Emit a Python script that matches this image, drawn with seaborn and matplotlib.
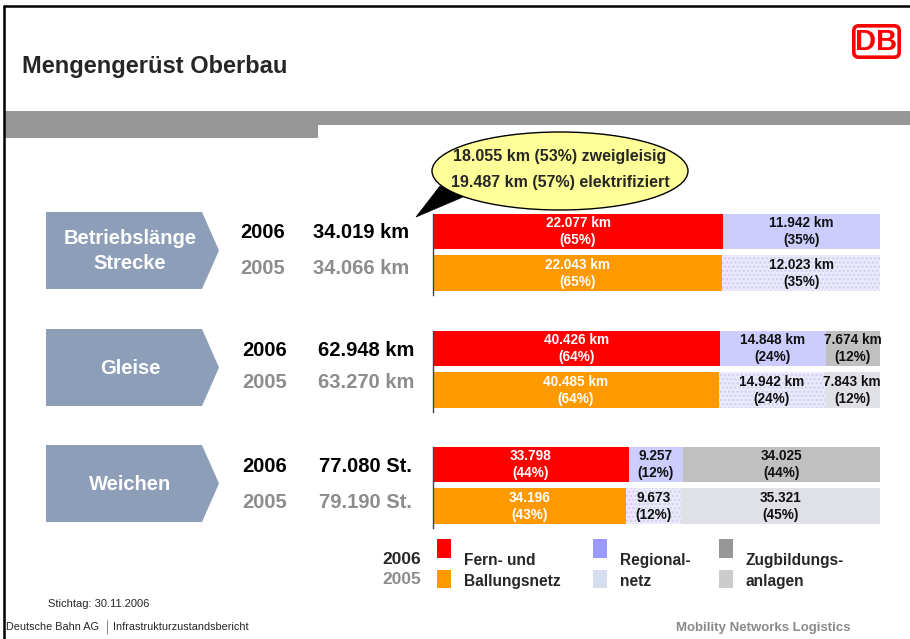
import matplotlib
matplotlib.use("Agg")
import matplotlib.pyplot as plt
import seaborn as sns
from matplotlib.patches import Polygon, Rectangle, Ellipse, FancyBboxPatch

# data
years = ["2006", "2005"]
groups = ["Betriebslänge\nStrecke", "Gleise", "Weichen"]
units = ["km", "km", "St."]

strecke_2006 = [22077, 11942]
strecke_2005 = [22043, 12023]
gleise_2006 = [40426, 14848, 7674]
gleise_2005 = [40485, 14942, 7843]
weichen_2006 = [33798, 9257, 34025]
weichen_2005 = [34196, 9673, 35321]

legend_labels = ["Fern- und\nBallungsnetz", "Regional-\nnetz", "Zugbildungs-\nanlagen"]
callout_lines = ["18.055 km (53%) zweigleisig", "19.487 km (57%) elektrifiziert"]

# styles
colors_2006 = ["#ff0000", "#ccccff", "#c0c0c0"]
colors_2005 = ["#ff9900", "#ebebfc", "#dfe1e6"]
legend_2006 = ["#ff0000", "#9999ff", "#969696"]
legend_2005 = ["#ff9900", "#d6dff0", "#cccccc"]
grey_text = "#8c8c8c"
chevron_color = "#8d9fb8"

W, H = 910, 639

sns.set_style("white")
plt.rcParams["font.family"] = ["Liberation Sans", "DejaVu Sans"]
plt.rcParams["hatch.linewidth"] = 1.2


def fmt(v):
    return f"{v:,}".replace(",", ".")


def rect(x0, y0, x1, y1):
    # pixel box -> figure fraction
    return [x0 / W, 1 - y1 / H, (x1 - x0) / W, (y1 - y0) / H]


fig = plt.figure(figsize=(W / 100, H / 100), dpi=100)
bg = fig.add_axes([0, 0, 1, 1])
bg.set_xlim(0, W)
bg.set_ylim(H, 0)
bg.axis("off")

# frame and header
bg.plot([4, 4], [6, H], color="black", lw=1.8)
bg.plot([4, W], [6, 6], color="black", lw=1.8)
bg.add_patch(Rectangle((5, 111), W - 5, 14, color="#969696", lw=0))
bg.add_patch(Rectangle((5, 125), 313, 13, color="#969696", lw=0))
bg.text(22, 66, "Mengengerüst Oberbau", fontsize=17, fontweight="bold", va="center")
bg.add_patch(FancyBboxPatch((855, 27), 43, 29, boxstyle="round,pad=1.2,rounding_size=5",
                            fc="white", ec="#ff0000", lw=2.6))
bg.text(876.5, 42.5, "DB", fontsize=21, fontweight="bold", color="#ff0000",
        ha="center", va="center")

# callout
bg.add_patch(Polygon([(440, 186), (463, 197), (416, 217)], closed=True, fc="black", ec="black", lw=0.5))
bg.add_patch(Ellipse((560, 171), 256, 78, fc="#ffff99", ec="black", lw=1))
bg.text(560, 157, callout_lines[0], fontsize=11.5, fontweight="bold", ha="center", va="center")
bg.text(560, 182, callout_lines[1], fontsize=11.5, fontweight="bold", ha="center", va="center")

rows = [
    (strecke_2006, strecke_2005),
    (gleise_2006, gleise_2005),
    (weichen_2006, weichen_2005),
]
bar_tops = [214, 331, 447]
chev_tops = [212, 329, 445]
year_x = [240, 242, 242]
val_x = [313, 318, 319]
text_y = [(233, 268), (350, 383), (467, 502)]
bar_h = 0.854

for g, (v06, v05) in enumerate(rows):
    # chevron label
    t = chev_tops[g]
    bg.add_patch(Polygon([(46, t), (202, t), (219, t + 38.5), (202, t + 77), (46, t + 77)],
                         closed=True, fc=chevron_color, ec="none"))
    bg.text(130, t + 39, groups[g], color="white", fontsize=14.5, fontweight="bold",
            ha="center", va="center", linespacing=1.4)

    # year + totals
    for k, (vals, col) in enumerate([(v06, "black"), (v05, grey_text)]):
        y = text_y[g][k]
        bg.text(year_x[g], y, years[k], fontsize=14.5, fontweight="bold", color=col, va="center")
        bg.text(val_x[g], y, f"{fmt(sum(vals))} {units[g]}", fontsize=14.5,
                fontweight="bold", color=col, va="center")

    # stacked share bars
    top = bar_tops[g]
    ax = fig.add_axes(rect(433, top, 880, top + 81))
    for k, (vals, cols) in enumerate([(v06, colors_2006), (v05, colors_2005)]):
        total = sum(vals)
        left = 0.0
        for s, v in enumerate(vals):
            share = v / total
            hatch = "...." if (k == 1 and s == 1) else None
            sns.barplot(x=[share], y=[years[k]], order=years, orient="h", left=left,
                        color=cols[s], saturation=1, width=bar_h, errorbar=None,
                        linewidth=0, edgecolor="#d0d0f2" if hatch else cols[s],
                        hatch=hatch, ax=ax)
            tcol = "white" if s == 0 else "#111111"
            unit = " km" if units[g] == "km" else ""
            ax.text(left + share / 2, k, f"{fmt(v)}{unit}\n({round(share * 100)}%)",
                    ha="center", va="center", fontsize=9.8, fontweight="bold",
                    color=tcol, linespacing=1.3)
            left += share
    ax.set_xlim(0, 1)
    ax.set_ylim(1.527, -0.427)
    ax.set(xlabel="", ylabel="", xticks=[], yticks=[])
    for side in ["top", "right", "bottom"]:
        ax.spines[side].set_visible(False)
    ax.spines["left"].set_color("#444444")
    ax.spines["left"].set_linewidth(1)
    ax.patch.set_alpha(0)

# legend
bg.text(382, 559, "2006", fontsize=12.5, fontweight="bold", va="center")
bg.text(382, 580, "2005", fontsize=12.5, fontweight="bold", color=grey_text, va="center")
leg_x = [437, 593, 719]
for i, lab in enumerate(legend_labels):
    bg.add_patch(Rectangle((leg_x[i], 539), 14, 19, color=legend_2006[i], lw=0))
    bg.add_patch(Rectangle((leg_x[i], 570), 14, 18, color=legend_2005[i], lw=0))
    bg.text(leg_x[i] + 27, 571, lab, fontsize=11.2, fontweight="bold", va="center",
            linespacing=1.45)

# footer
bg.text(48, 604, "Stichtag: 30.11.2006", fontsize=8, va="center")
bg.text(6, 627, "Deutsche Bahn AG", fontsize=7.8, va="center")
bg.plot([107, 107], [620, 634], color="#888888", lw=0.7)
bg.text(113, 627, "Infrastrukturzustandsbericht", fontsize=7.8, va="center")
bg.text(850, 628, "Mobility Networks Logistics", fontsize=9.5, fontweight="bold",
        color="#8a8a8a", ha="right", va="center")

fig.savefig("out.png", dpi=100)
